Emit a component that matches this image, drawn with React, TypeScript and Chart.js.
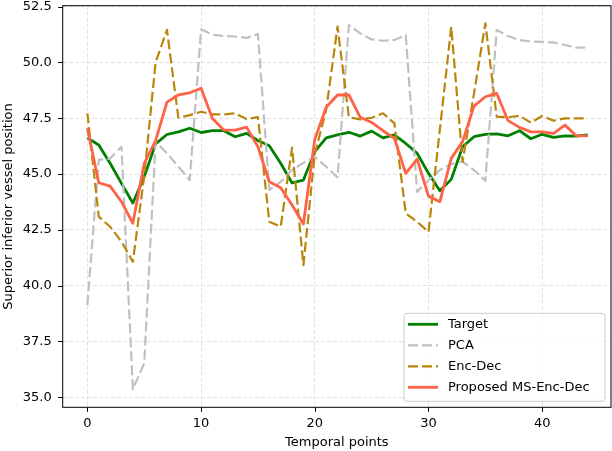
import React, { useEffect, useRef } from "react";
import { Chart, registerables } from "chart.js";

Chart.register(...registerables);

const TEMPORAL_POINTS = [
  0, 1, 2, 3, 4, 5, 6, 7, 8, 9, 10, 11, 12, 13, 14, 15, 16, 17, 18, 19, 20, 21, 22,
  23, 24, 25, 26, 27, 28, 29, 30, 31, 32, 33, 34, 35, 36, 37, 38, 39, 40, 41, 42, 43, 44,
];

const TARGET = [
  46.62, 46.3, 45.48, 44.58, 43.7, 44.88, 46.35, 46.77, 46.89, 47.05, 46.86, 46.94, 46.94,
  46.67, 46.82, 46.5, 46.27, 45.48, 44.6, 44.73, 46.0, 46.62, 46.75, 46.87, 46.7, 46.92,
  46.62, 46.75, 46.37, 45.93, 45.03, 44.25, 44.76, 46.22, 46.67, 46.78, 46.8, 46.71, 46.94,
  46.58, 46.78, 46.64, 46.71, 46.7, 46.75,
];

const PCA = [
  39.13, 45.63, 45.7, 46.22, 35.36, 36.52, 46.45, 45.93, 45.33, 44.73, 51.48, 51.25, 51.18,
  51.16, 51.1, 51.27, 44.28, 44.65, 45.18, 45.5, 45.77, 45.33, 44.85, 51.67, 51.3, 51.03,
  50.97, 51.0, 51.22, 44.2, 44.73, 45.18, 45.45, 45.55, 45.18, 44.69, 51.45, 51.18, 51.0,
  50.94, 50.92, 50.89, 50.78, 50.66, 50.67,
];

const ENC_DEC = [
  47.72, 43.09, 42.64, 41.97, 41.07, 44.9, 50.0, 51.46, 47.52, 47.64, 47.79, 47.67, 47.67,
  47.72, 47.46, 47.55, 42.86, 42.64, 46.18, 40.92, 45.9, 47.86, 51.6, 47.54, 47.45, 47.52,
  47.72, 47.27, 43.24, 42.86, 42.41, 47.0, 51.6, 45.55, 48.6, 51.75, 47.57, 47.54, 47.61,
  47.3, 47.6, 47.39, 47.49, 47.49, 47.49,
];

const PROPOSED = [
  47.05, 44.61, 44.46, 43.76, 42.79, 45.48, 46.5, 48.22, 48.54, 48.64, 48.84, 47.49, 46.97,
  46.97, 47.1, 46.22, 44.65, 44.39, 43.61, 42.76, 46.56, 47.99, 48.54, 48.54, 47.54, 47.31,
  46.94, 46.6, 45.03, 45.67, 44.01, 43.76, 45.7, 46.45, 48.04, 48.46, 48.61, 47.39, 47.09,
  46.89, 46.89, 46.82, 47.19, 46.71, 46.71,
];

const X_TICKS = [0, 10, 20, 30, 40];
const Y_TICKS = [35, 37.5, 40, 42.5, 45, 47.5, 50, 52.5];

const SERIES_LABELS = ["Target", "PCA", "Enc-Dec", "Proposed MS-Enc-Dec"];
const SERIES_COLORS = ["#008000", "#c0c0c0", "#b8860b", "#ff6347"];
const SERIES_DASH: number[][] = [[], [10, 4], [10, 4], []];
const SERIES_WIDTH = [2.8, 2.2, 2.2, 2.8];

const X_LABEL = "Temporal points";
const Y_LABEL = "Superior inferior vessel position";

const FONT = "'DejaVu Sans', sans-serif";

const W = 612;
const H = 451;

const framePlugin = {
  id: "mplFrame",
  afterDraw(chart: any) {
    const ctx = chart.ctx;
    const ca = chart.chartArea;
    ctx.save();
    ctx.strokeStyle = "#000";
    ctx.lineWidth = 1;
    ctx.setLineDash([]);
    ctx.strokeRect(ca.left, ca.top, ca.right - ca.left, ca.bottom - ca.top);
    const xs = chart.scales.x;
    const ys = chart.scales.y;
    ctx.beginPath();
    for (const t of xs.ticks) {
      const px = Math.round(xs.getPixelForValue(t.value)) + 0.5;
      ctx.moveTo(px, ca.bottom);
      ctx.lineTo(px, ca.bottom + 4.5);
    }
    for (const t of ys.ticks) {
      const py = Math.round(ys.getPixelForValue(t.value)) + 0.5;
      ctx.moveTo(ca.left - 4.5, py);
      ctx.lineTo(ca.left, py);
    }
    ctx.stroke();

    // legend (matplotlib style, lower right)
    const bw = 201;
    const bh = 88;
    const bx = ca.right - 6 - bw;
    const by = ca.bottom - 6 - bh;
    const r = 3;
    ctx.beginPath();
    ctx.moveTo(bx + r, by);
    ctx.lineTo(bx + bw - r, by);
    ctx.quadraticCurveTo(bx + bw, by, bx + bw, by + r);
    ctx.lineTo(bx + bw, by + bh - r);
    ctx.quadraticCurveTo(bx + bw, by + bh, bx + bw - r, by + bh);
    ctx.lineTo(bx + r, by + bh);
    ctx.quadraticCurveTo(bx, by + bh, bx, by + bh - r);
    ctx.lineTo(bx, by + r);
    ctx.quadraticCurveTo(bx, by, bx + r, by);
    ctx.closePath();
    ctx.fillStyle = "rgba(255,255,255,0.8)";
    ctx.fill();
    ctx.strokeStyle = "#cccccc";
    ctx.lineWidth = 1;
    ctx.stroke();

    ctx.font = `13px ${FONT}`;
    ctx.textBaseline = "middle";
    ctx.textAlign = "left";
    chart.data.datasets.forEach((ds: any, i: number) => {
      const y = by + 11 + i * 21;
      ctx.beginPath();
      ctx.strokeStyle = ds.borderColor;
      ctx.lineWidth = ds.borderWidth;
      ctx.setLineDash(ds.borderDash || []);
      ctx.lineCap = "butt";
      ctx.moveTo(bx + 4, y);
      ctx.lineTo(bx + 34, y);
      ctx.stroke();
      ctx.setLineDash([]);
      ctx.fillStyle = "#000";
      ctx.fillText(ds.label, bx + 44, y + 0.5);
    });
    ctx.restore();
  },
};

export default function App() {
  const canvasRef = useRef<HTMLCanvasElement | null>(null);

  useEffect(() => {
    document.body.style.margin = "0";
    const canvas = canvasRef.current;
    if (!canvas) return;
    const seriesValues = [TARGET, PCA, ENC_DEC, PROPOSED];
    const datasets = seriesValues.map((vals, i) => ({
      label: SERIES_LABELS[i],
      data: TEMPORAL_POINTS.map((x, j) => ({ x, y: vals[j] })),
      borderColor: SERIES_COLORS[i],
      backgroundColor: SERIES_COLORS[i],
      borderWidth: SERIES_WIDTH[i],
      borderDash: SERIES_DASH[i],
      borderJoinStyle: "round" as const,
      borderCapStyle: "butt" as const,
      pointRadius: 0,
      pointHoverRadius: 0,
      tension: 0,
      fill: false,
      order: 3 - i,
    }));

    const chart = new Chart(canvas, {
      type: "line",
      data: { datasets },
      options: {
        animation: false,
        responsive: false,
        maintainAspectRatio: false,
        layout: { padding: { top: 5.7, right: 1, left: 0, bottom: 0 } },
        plugins: {
          legend: { display: false },
          tooltip: { enabled: false },
        },
        scales: {
          x: {
            type: "linear",
            min: -2.17,
            max: 46.05,
            afterFit: (s: any) => {
              s.height = 43.7;
              s.paddingLeft = 0;
              s.paddingRight = 0;
            },
            afterBuildTicks: (s: any) => {
              s.ticks = X_TICKS.map((v) => ({ value: v }));
            },
            ticks: {
              color: "#000",
              font: { family: FONT, size: 13 },
              padding: 8.5,
              maxRotation: 0,
              autoSkip: false,
              callback: (v: any) => String(v),
            },
            grid: { color: "#e2e2e2", lineWidth: 1, drawTicks: false },
            border: { display: false, dash: [4, 2] },
            title: {
              display: true,
              text: X_LABEL,
              color: "#000",
              font: { family: FONT, size: 13 },
              padding: { top: 0, bottom: 0.5 },
            },
          },
          y: {
            type: "linear",
            min: 34.55,
            max: 52.54,
            afterFit: (s: any) => {
              s.width = 62.7;
              s.paddingTop = 0;
              s.paddingBottom = 0;
            },
            afterBuildTicks: (s: any) => {
              s.ticks = Y_TICKS.map((v) => ({ value: v }));
            },
            ticks: {
              color: "#000",
              font: { family: FONT, size: 13 },
              padding: 11,
              autoSkip: false,
              callback: (v: any) => Number(v).toFixed(1),
            },
            grid: { color: "#e2e2e2", lineWidth: 1, drawTicks: false },
            border: { display: false, dash: [4, 2] },
            title: {
              display: true,
              text: Y_LABEL,
              color: "#000",
              font: { family: FONT, size: 13 },
              padding: { top: 1, bottom: 0 },
            },
          },
        },
      },
      plugins: [framePlugin],
    });
    return () => chart.destroy();
  }, []);

  return (
    <div style={{ position: "absolute", left: 0, top: 0, width: W, height: H }}>
      <canvas ref={canvasRef} width={W} height={H} style={{ display: "block", width: W, height: H }} />
    </div>
  );
}
